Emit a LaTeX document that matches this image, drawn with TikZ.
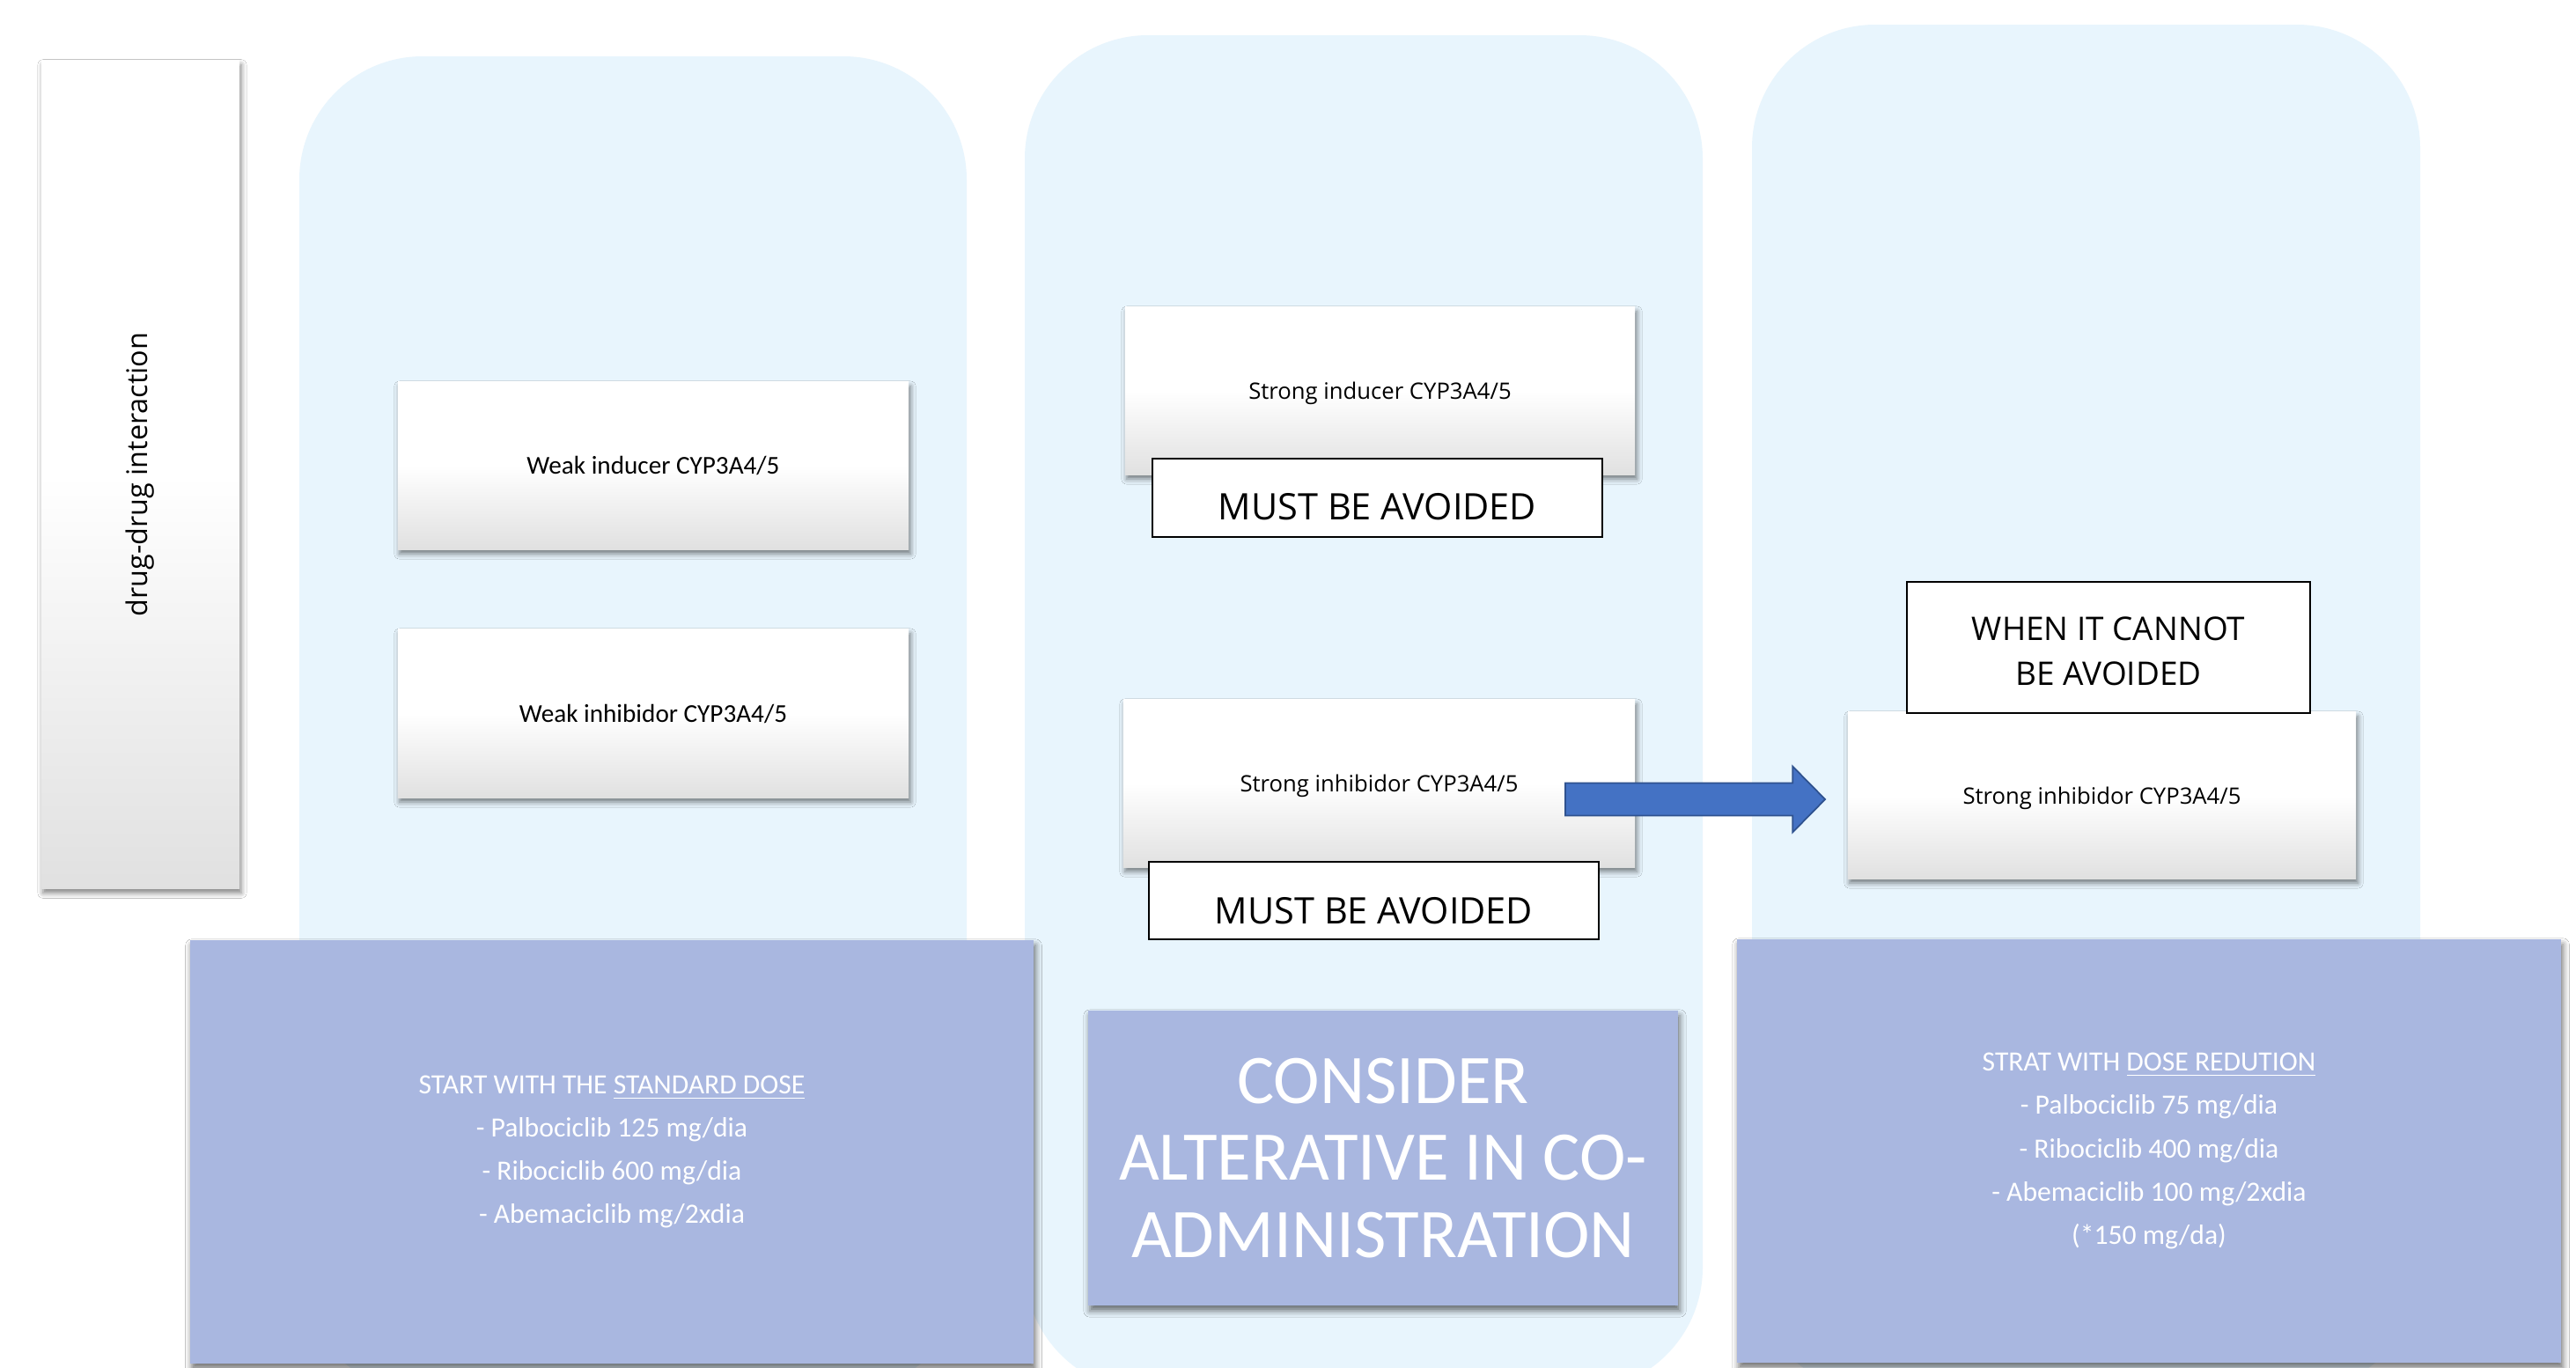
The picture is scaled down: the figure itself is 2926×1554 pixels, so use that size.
\documentclass[tikz,border=0pt]{standalone}
\usepackage{fontspec}
\setmainfont{Carlito}
\newfontfamily\osans{Open Sans}
\usetikzlibrary{calc,shadows.blur}
\definecolor{panelblue}{RGB}{232,245,253}
\definecolor{purplebox}{RGB}{169,183,224}
\definecolor{arrowblue}{RGB}{68,114,196}
\definecolor{arrowdark}{RGB}{47,82,143}
\begin{document}
\begin{tikzpicture}[x=0.01cm,y=-0.01cm,
  panel/.style={fill=panelblue, rounded corners=1.4cm},
  gbox/.style={top color=white, bottom color=black!12, middle color=white, draw=none, inner sep=0pt, align=center,
    blur shadow={shadow xshift=0.02cm, shadow yshift=-0.05cm, shadow blur radius=0.06cm, shadow opacity=50}},
  pbox/.style={fill=purplebox, text=white, align=center, inner sep=0pt,
    blur shadow={shadow xshift=0.02cm, shadow yshift=-0.06cm, shadow blur radius=0.07cm, shadow opacity=55}},
  notebox/.style={fill=white, draw=black, line width=0.6pt, inner sep=0pt, align=center},
  weakfont/.style={font=\fontsize{8.3pt}{10pt}\selectfont},
  strongfont/.style={font=\osans\fontsize{7.3pt}{9pt}\selectfont, text height=0.19cm, text depth=0pt},
  mustfont/.style={font=\osans\fontsize{11.8pt}{14.5pt}\selectfont},
  whenfont/.style={font=\osans\fontsize{10.5pt}{14.5pt}\selectfont},
  dosefont/.style={font=\fontsize{9pt}{14pt}\selectfont},
]
\useasboundingbox (0,0) rectangle (2926,1554);
\fill[white] (0,0) rectangle (2926,1554);
\clip (0,0) rectangle (2926,1554);

% background panels
\fill[panel] (340,64) rectangle (1098,1580);
\fill[panel] (1164,40) rectangle (1934,1580);
\fill[panel] (1990,28) rectangle (2749,1580);

% left bar
\node[gbox, minimum width=2.25cm, minimum height=9.4cm] (bar) at (159.5,539)
  {\osans\fontsize{9.2pt}{11pt}\selectfont\rotatebox{90}{drug-drug interaction}};

% column 1
\node[gbox, weakfont, minimum width=5.8cm, minimum height=1.9cm] (wind) at (742,529) {Weak inducer CYP3A4/5};
\node[gbox, weakfont, minimum width=5.8cm, minimum height=1.91cm] (winh) at (742,810.5) {Weak inhibidor CYP3A4/5};

% column 2
\node[gbox, strongfont, minimum width=5.79cm, minimum height=1.9cm] (sind) at (1567.5,444) {Strong inducer CYP3A4/5};
\node[notebox, mustfont, minimum width=5.11cm, minimum height=0.89cm, text height=0.5cm, text depth=0pt] (must1) at (1564.5,565.5) {MUST BE AVOIDED};
\node[gbox, strongfont, minimum width=5.81cm, minimum height=1.9cm] (sinm) at (1566.5,890) {Strong inhibidor CYP3A4/5};
\node[notebox, mustfont, minimum width=5.11cm, minimum height=0.88cm, text height=0.52cm, text depth=0pt] (must2) at (1560.5,1023) {MUST BE AVOIDED};

% column 3
\node[gbox, strongfont, minimum width=5.77cm, minimum height=1.89cm] (sinr) at (2387.5,903.5) {Strong inhibidor CYP3A4/5};
\node[notebox, minimum width=4.58cm, minimum height=1.49cm] (when) at (2395,735.5) {};
\node[whenfont, align=center, inner sep=0pt] (whentext) at ($(when.center)+(0,4)$) {WHEN IT CANNOT\\BE AVOIDED};

% arrow
\coordinate (as) at ($(sinm.east)+(-80,18)$);
\coordinate (ae) at ($(sinr.west)+(-25,4.5)$);
\filldraw[fill=arrowblue, draw=arrowdark, line width=0.5pt, line join=miter]
  ($(as)+(0,-18.5)$) -- ($(ae)+(-37,-18.5)$) -- ($(ae)+(-37,-37.5)$) -- (ae)
  -- ($(ae)+(-37,37.5)$) -- ($(ae)+(-37,18.5)$) -- ($(as)+(0,18.5)$) -- cycle;

% dose boxes
\node[pbox, dosefont, minimum width=9.58cm, minimum height=4.81cm] (dose1) at (695,1308.5)
  {START WITH THE \underline{STANDARD DOSE}\\- Palbociclib 125 mg/dia\\- Ribociclib 600 mg/dia\\- Abemaciclib mg/2xdia};
\node[pbox, font=\fontsize{22.5pt}{25pt}\selectfont, minimum width=6.7cm, minimum height=3.35cm] (alt) at (1571,1315.5)
  {CONSIDER\\ALTERATIVE IN CO-\\ADMINISTRATION};
\node[pbox, dosefont, minimum width=9.36cm, minimum height=4.81cm] (dose3) at (2441,1307.5)
  {STRAT WITH \underline{DOSE REDUTION}\\- Palbociclib 75 mg/dia\\- Ribociclib 400 mg/dia\\- Abemaciclib 100 mg/2xdia\\(*150 mg/da)};
\end{tikzpicture}
\end{document}
